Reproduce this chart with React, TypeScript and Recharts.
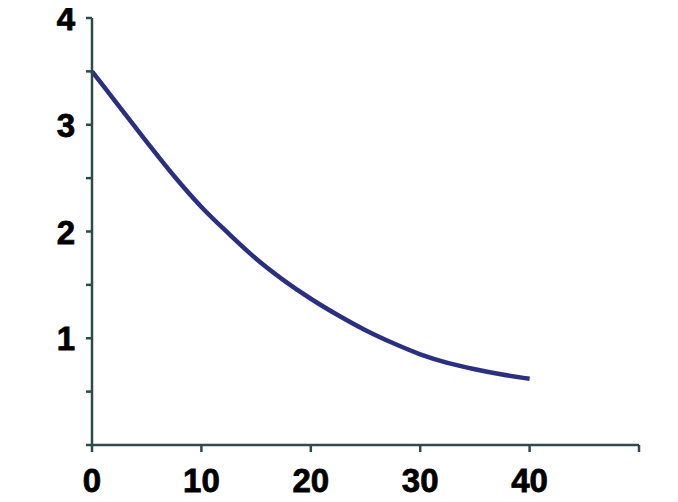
import React from "react";
import { LineChart, Line, XAxis, YAxis } from "recharts";

const xValues = [0, 2.5, 5, 7.5, 10, 12.5, 15, 17.5, 20, 22.5, 25, 27.5, 30, 32.5, 35, 37.5, 40];
const yValues = [3.5, 3.17, 2.84, 2.52, 2.23, 1.98, 1.745, 1.545, 1.37, 1.215, 1.075, 0.955, 0.85, 0.77, 0.71, 0.66, 0.62];
const xTicks = [0, 10, 20, 30, 40, 50];
const xLabels = ["0", "10", "20", "30", "40", ""];
const yTicks = [0, 0.5, 1, 1.5, 2, 2.5, 3, 3.5, 4];
const yLabels = ["", "", "1", "", "2", "", "3", "", "4"];

const data = xValues.map((x, i) => ({ x, y: yValues[i] }));

const AXIS = "#2d4b4c";
const LINE = "#2b2f80";
const FONT = "'Liberation Sans', Arial, sans-serif";

const XTick = (props: any) => {
  const { x, y, payload } = props;
  const idx = xTicks.indexOf(payload.value);
  const label = idx >= 0 ? xLabels[idx] : "";
  return (
    <text x={x} y={y + 38} textAnchor="middle" fontFamily={FONT} fontWeight="bold" fontSize={33}
      fill="#000" stroke="#000" strokeWidth={0.8}>
      {label}
    </text>
  );
};

const YTick = (props: any) => {
  const { x, y, payload } = props;
  const idx = yTicks.indexOf(payload.value);
  const label = idx >= 0 ? yLabels[idx] : "";
  return (
    <text x={x - 9} y={y + 12} textAnchor="end" fontFamily={FONT} fontWeight="bold" fontSize={33}
      fill="#000" stroke="#000" strokeWidth={0.8}>
      {label}
    </text>
  );
};

export default function App() {
  return (
    <div style={{ width: 678, height: 502, background: "#fff", margin: "-8px 0 0 -8px" }}>
      <LineChart width={678} height={502} data={data} margin={{ top: 18, right: 39, bottom: 0, left: 32 }}>
        <XAxis
          dataKey="x"
          type="number"
          domain={[0, 50]}
          ticks={xTicks}
          interval={0}
          height={57}
          stroke={AXIS}
          strokeWidth={2.5}
          tickLine={{ stroke: AXIS, strokeWidth: 2.5 }}
          tickSize={7}
          tick={<XTick />}
        />
        <YAxis
          type="number"
          domain={[0, 4]}
          ticks={yTicks}
          interval={0}
          width={60}
          stroke={AXIS}
          strokeWidth={2.5}
          tickLine={{ stroke: AXIS, strokeWidth: 2.5 }}
          tickSize={6}
          tick={<YTick />}
        />
        <Line
          dataKey="y"
          type="monotone"
          stroke={LINE}
          strokeWidth={4.5}
          dot={false}
          isAnimationActive={false}
        />
      </LineChart>
    </div>
  );
}
